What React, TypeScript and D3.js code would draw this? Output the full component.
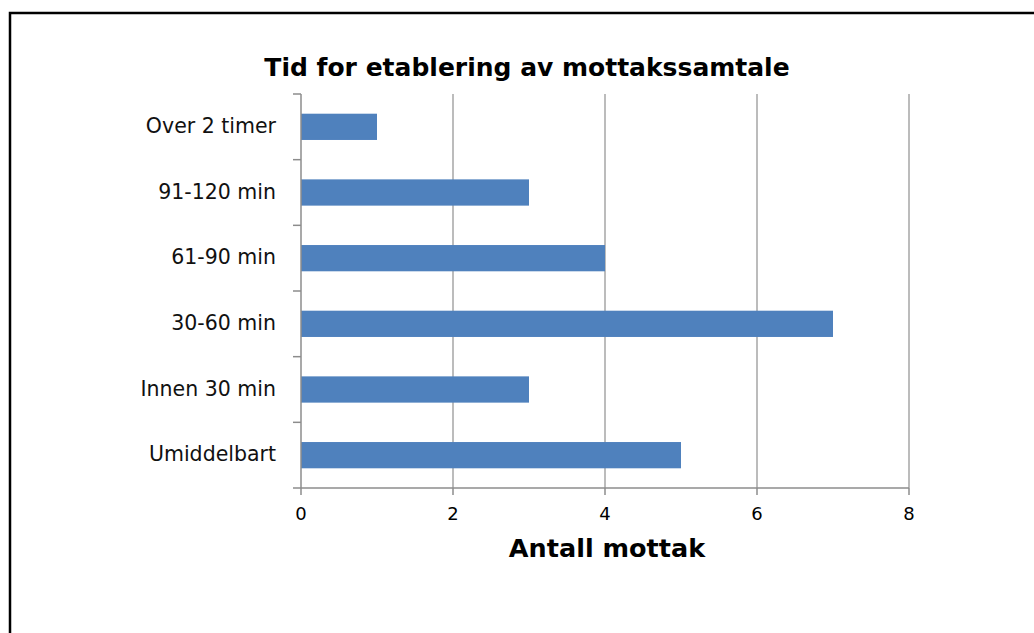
import React, { useEffect, useRef } from 'react';
import * as d3 from 'd3';

const width = 1034;
const height = 633;

const categories = ['Over 2 timer', '91-120 min', '61-90 min', '30-60 min', 'Innen 30 min', 'Umiddelbart'];
const values = [1, 3, 4, 7, 3, 5];
const xTicks = [0, 2, 4, 6, 8];

const title = 'Tid for etablering av mottakssamtale';
const xTitle = 'Antall mottak';

const font = "'DejaVu Sans', sans-serif";

const App: React.FC = () => {
  const ref = useRef<SVGSVGElement>(null);

  useEffect(() => {
    document.body.style.margin = '0';
    if (!ref.current) return;
    const svg = d3.select(ref.current);
    svg.selectAll('*').remove();

    // outer frame
    svg
      .append('rect')
      .attr('x', 10)
      .attr('y', 13)
      .attr('width', width + 20)
      .attr('height', height + 20)
      .attr('fill', 'none')
      .attr('stroke', '#000')
      .attr('stroke-width', 2.5);

    const left = 301;
    const right = 909;
    const top = 94;
    const bottom = 488;

    const x = d3.scaleLinear().domain([0, 8]).range([left, right]);
    const y = d3.scaleBand<string>().domain(categories).range([top, bottom]).paddingInner(0.6).paddingOuter(0.3);
    const band = d3.scaleBand<string>().domain(categories).range([top, bottom]);

    // gridlines
    svg
      .append('g')
      .selectAll('line')
      .data(xTicks.slice(1))
      .enter()
      .append('line')
      .attr('x1', d => x(d))
      .attr('x2', d => x(d))
      .attr('y1', top)
      .attr('y2', bottom)
      .attr('stroke', '#a6a6a6')
      .attr('stroke-width', 1.5);

    // bars
    svg
      .append('g')
      .selectAll('rect')
      .data(categories)
      .enter()
      .append('rect')
      .attr('x', x(0))
      .attr('y', d => y(d)!)
      .attr('width', (_, i) => x(values[i]) - x(0))
      .attr('height', y.bandwidth())
      .attr('fill', '#4f81bd');

    const axisColor = '#8c8c8c';

    // x axis
    svg
      .append('line')
      .attr('x1', left)
      .attr('x2', right)
      .attr('y1', bottom)
      .attr('y2', bottom)
      .attr('stroke', axisColor)
      .attr('stroke-width', 1.5);
    svg
      .append('g')
      .selectAll('line')
      .data(xTicks)
      .enter()
      .append('line')
      .attr('x1', d => x(d))
      .attr('x2', d => x(d))
      .attr('y1', bottom)
      .attr('y2', bottom + 7)
      .attr('stroke', axisColor)
      .attr('stroke-width', 1.5);
    svg
      .append('g')
      .selectAll('text')
      .data(xTicks)
      .enter()
      .append('text')
      .attr('x', d => x(d))
      .attr('y', 520)
      .attr('text-anchor', 'middle')
      .attr('font-family', font)
      .attr('font-size', 18)
      .attr('fill', '#000')
      .text(d => d);

    // y axis
    svg
      .append('line')
      .attr('x1', left)
      .attr('x2', left)
      .attr('y1', top)
      .attr('y2', bottom)
      .attr('stroke', axisColor)
      .attr('stroke-width', 1.5);
    const yTickPos = categories.map(c => band(c)!).concat([bottom]);
    svg
      .append('g')
      .selectAll('line')
      .data(yTickPos)
      .enter()
      .append('line')
      .attr('x1', left - 8)
      .attr('x2', left)
      .attr('y1', d => d)
      .attr('y2', d => d)
      .attr('stroke', axisColor)
      .attr('stroke-width', 1.5);
    svg
      .append('g')
      .selectAll('text')
      .data(categories)
      .enter()
      .append('text')
      .attr('x', left - 25)
      .attr('y', d => band(d)! + band.bandwidth() / 2)
      .attr('dy', '0.3em')
      .attr('text-anchor', 'end')
      .attr('font-family', font)
      .attr('font-size', 20.5)
      .attr('fill', '#111')
      .text(d => d);

    // titles
    svg
      .append('text')
      .attr('x', 527)
      .attr('y', 76)
      .attr('text-anchor', 'middle')
      .attr('font-family', font)
      .attr('font-weight', 'bold')
      .attr('font-size', 25)
      .attr('fill', '#000')
      .text(title);
    svg
      .append('text')
      .attr('x', (left + right) / 2 + 2)
      .attr('y', 557)
      .attr('text-anchor', 'middle')
      .attr('font-family', font)
      .attr('font-weight', 'bold')
      .attr('font-size', 25.5)
      .attr('fill', '#000')
      .text(xTitle);
  }, []);

  return <svg ref={ref} width={width} height={height} style={{ display: 'block', background: '#fff' }} />;
};

export default App;
